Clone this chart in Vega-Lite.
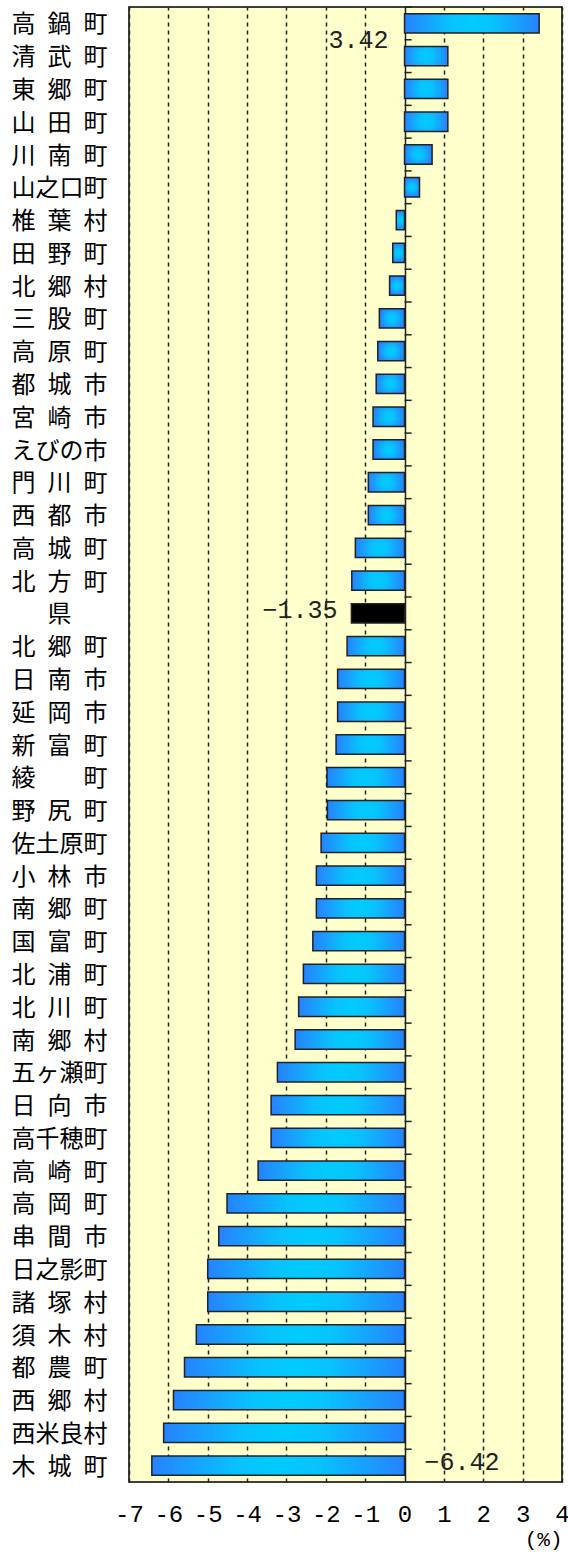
{
  "$schema": "https://vega.github.io/schema/vega-lite/v6.json",
  "description": "Population change rate by municipality (%)",
  "width": 433,
  "height": 1475,
  "padding": {"left": 11, "top": 6, "right": 0, "bottom": 6},
  "background": "white",
  "data": {
    "values": [
      {"name": "高鍋町", "value": 3.42},
      {"name": "清武町", "value": 1.1},
      {"name": "東郷町", "value": 1.1},
      {"name": "山田町", "value": 1.1},
      {"name": "川南町", "value": 0.7},
      {"name": "山之口町", "value": 0.38},
      {"name": "椎葉村", "value": -0.21},
      {"name": "田野町", "value": -0.3},
      {"name": "北郷村", "value": -0.38},
      {"name": "三股町", "value": -0.64},
      {"name": "高原町", "value": -0.68},
      {"name": "都城市", "value": -0.72},
      {"name": "宮崎市", "value": -0.8},
      {"name": "えびの市", "value": -0.8},
      {"name": "門川町", "value": -0.92},
      {"name": "西都市", "value": -0.92},
      {"name": "高城町", "value": -1.25},
      {"name": "北方町", "value": -1.34},
      {"name": "県", "value": -1.35},
      {"name": "北郷町", "value": -1.46},
      {"name": "日南市", "value": -1.7},
      {"name": "延岡市", "value": -1.7},
      {"name": "新富町", "value": -1.74},
      {"name": "綾町", "value": -1.97},
      {"name": "野尻町", "value": -1.96},
      {"name": "佐土原町", "value": -2.12},
      {"name": "小林市", "value": -2.24},
      {"name": "南郷町", "value": -2.24},
      {"name": "国富町", "value": -2.33},
      {"name": "北浦町", "value": -2.57},
      {"name": "北川町", "value": -2.69},
      {"name": "南郷村", "value": -2.78},
      {"name": "五ヶ瀬町", "value": -3.23},
      {"name": "日向市", "value": -3.39},
      {"name": "高千穂町", "value": -3.39},
      {"name": "高崎町", "value": -3.72},
      {"name": "高岡町", "value": -4.51},
      {"name": "串間市", "value": -4.72},
      {"name": "日之影町", "value": -5.0},
      {"name": "諸塚村", "value": -5.0},
      {"name": "須木村", "value": -5.29},
      {"name": "都農町", "value": -5.59},
      {"name": "西郷村", "value": -5.87},
      {"name": "西米良村", "value": -6.12},
      {"name": "木城町", "value": -6.42}
    ]
  },
  "encoding": {
    "y": {
      "field": "name",
      "type": "nominal",
      "sort": null,
      "scale": {"paddingInner": 0, "paddingOuter": 0},
      "axis": {
        "title": null,
        "ticks": false,
        "tickSize": 0,
        "domain": false,
        "labelAlign": "left",
        "labelPadding": {"condition": {"test": "datum.value === '県'", "value": 82}, "value": 118},
        "labelOffset": 2,
        "labelFont": "Noto Sans Mono CJK JP, Noto Sans CJK JP",
        "labelFontSize": 24,
        "labelColor": "black",
        "labelLimit": 0,
        "labelExpr": "datum.label === '綾町' ? '綾\u3000\u3000町' : length(datum.label) === 3 ? substring(datum.label, 0, 1) + ' ' + substring(datum.label, 1, 2) + ' ' + substring(datum.label, 2, 3) : datum.label"
      }
    }
  },
  "layer": [
    {
      "mark": {"type": "bar", "height": {"band": 0.59}, "stroke": "#222222", "strokeWidth": 1.5},
      "encoding": {
        "x": {
          "field": "value",
          "type": "quantitative",
          "scale": {"domain": [-7, 4], "nice": false},
          "axis": {
            "title": "(%)",
            "titleFont": "Liberation Mono",
            "titleFontSize": 21,
            "titleFontWeight": "normal",
            "titleColor": "black",
            "titleAnchor": "end",
            "titlePadding": 2,
            "values": [-7, -6, -5, -4, -3, -2, -1, 0, 1, 2, 3, 4],
            "tickCount": 30,
            "labelExpr": "'' + datum.value",
            "labelFont": "Liberation Mono",
            "labelFontSize": 24,
            "labelColor": "black",
            "labelPadding": 20,
            "labelFlush": false,
            "labelOverlap": false,
            "ticks": false,
            "tickSize": 0,
            "domain": false,
            "grid": true,
            "gridColor": "#222222",
            "gridWidth": 1.5,
            "gridDash": {"condition": {"test": "datum.value === 0", "value": []}, "value": [4, 4]},
            "gridOpacity": 1
          }
        },
        "fill": {
          "condition": {"test": "datum.name === '県'", "value": "black"},
          "value": {
            "gradient": "radial",
            "x1": 0.5, "y1": 0.5, "r1": 0,
            "x2": 0.5, "y2": 0.5, "r2": 0.65,
            "stops": [
              {"offset": 0, "color": "#00ccff"},
              {"offset": 0.25, "color": "#08c2ff"},
              {"offset": 1, "color": "#3366ff"}
            ]
          }
        }
      }
    },
    {
      "mark": {"type": "rule", "color": "#222222", "strokeWidth": 1.5},
      "encoding": {
        "x": {"datum": 0},
        "x2": {"datum": 0.18},
        "y": {"field": "name", "type": "nominal", "sort": null, "bandPosition": 0}
      }
    },
    {
      "transform": [{"filter": "datum.name === '高鍋町'"}],
      "mark": {"type": "text", "font": "Liberation Mono", "fontSize": 25, "color": "#222222", "align": "right", "baseline": "middle", "dx": -16},
      "encoding": {
        "x": {"datum": 0},
        "y": {"field": "name", "type": "nominal", "sort": null, "bandPosition": 1},
        "text": {"field": "value", "format": ".2f"}
      }
    },
    {
      "transform": [{"filter": "datum.name === '県'"}],
      "mark": {"type": "text", "font": "Liberation Mono", "fontSize": 25, "color": "#222222", "align": "right", "baseline": "middle", "dx": -14, "dy": -3},
      "encoding": {
        "x": {"field": "value", "type": "quantitative"},
        "y": {"field": "name", "type": "nominal", "sort": null},
        "text": {"field": "value", "format": ".2f"}
      }
    },
    {
      "transform": [{"filter": "datum.name === '木城町'"}],
      "mark": {"type": "text", "font": "Liberation Mono", "fontSize": 25, "color": "#222222", "align": "left", "baseline": "middle", "dx": 20, "dy": -4},
      "encoding": {
        "x": {"datum": 0},
        "y": {"field": "name", "type": "nominal", "sort": null},
        "text": {"field": "value", "format": ".2f"}
      }
    }
  ],
  "config": {
    "view": {"fill": "#FFFFCC", "stroke": "black", "strokeWidth": 1.5}
  }
}
